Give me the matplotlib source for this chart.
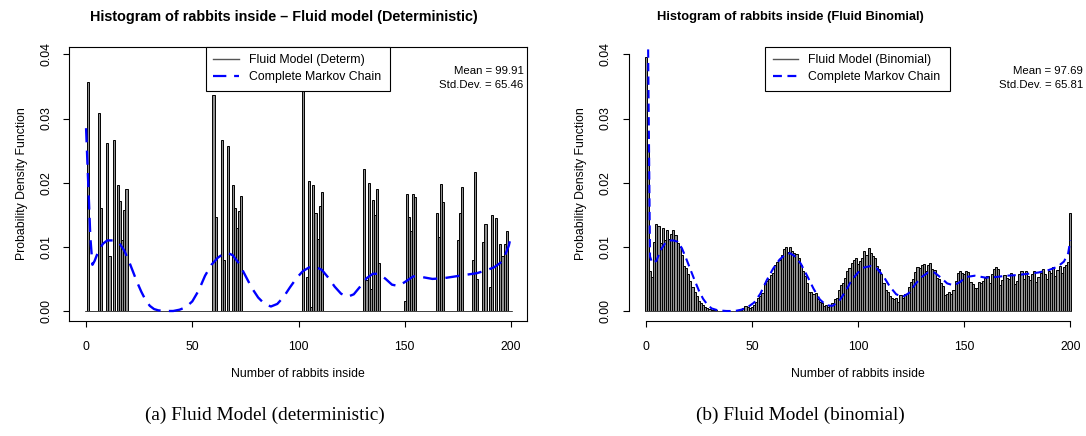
import numpy as np
import matplotlib.pyplot as plt
from matplotlib.lines import Line2D

plt.rcParams['font.family'] = ['Liberation Sans', 'DejaVu Sans']

# left panel: fluid model (deterministic), only a few bins are non-zero
det_bins = [1, 6, 7, 10, 11, 13, 15, 16, 17, 18, 19,
            60, 61, 64, 65, 67, 69, 70, 71, 72, 73,
            102, 104, 105, 106, 107, 108, 109, 110, 111,
            131, 132, 133, 134, 135, 136, 137, 138,
            150, 151, 152, 153, 154, 155,
            165, 166, 167, 168,
            175, 176, 177,
            182, 183, 184,
            187, 188, 190, 191, 193, 195, 196, 197, 198]
det_vals = [0.0357, 0.0309, 0.0160, 0.0262, 0.0085, 0.0267, 0.0197, 0.0172, 0.0110, 0.0157, 0.0190,
            0.0337, 0.0146, 0.0266, 0.0080, 0.0257, 0.0197, 0.0160, 0.0129, 0.0156, 0.0179,
            0.0460, 0.0053, 0.0203, 0.0007, 0.0197, 0.0153, 0.0113, 0.0164, 0.0185,
            0.0222, 0.0048, 0.0199, 0.0034, 0.0173, 0.0150, 0.0190, 0.0075,
            0.0016, 0.0183, 0.0147, 0.0124, 0.0182, 0.0178,
            0.0152, 0.0116, 0.0198, 0.0170,
            0.0110, 0.0153, 0.0194,
            0.0080, 0.0216, 0.0050,
            0.0108, 0.0136, 0.0038, 0.0150, 0.0145, 0.0104, 0.0085, 0.0104, 0.0125]

# right panel: fluid model (binomial), one value per bin 0..200
bin_vals = [
    0.0396, 0.0254, 0.0062, 0.0053, 0.0108, 0.0136, 0.0133, 0.0106, 0.0129, 0.0110,
    0.0127, 0.0112, 0.0120, 0.0127, 0.0118, 0.0106, 0.0099, 0.0088, 0.0070, 0.0067,
    0.0058, 0.0046, 0.0038, 0.0030, 0.0024, 0.0016, 0.0012, 0.0009, 0.0006, 0.0004,
    0.0003, 0.0002, 0.0001, 0.0001, 0.0000, 0.0000, 0.0000, 0.0000, 0.0000, 0.0000,
    0.0000, 0.0000, 0.0000, 0.0001, 0.0001, 0.0002, 0.0005, 0.0008, 0.0006, 0.0004,
    0.0007, 0.0010, 0.0014, 0.0020, 0.0024, 0.0028, 0.0043, 0.0046, 0.0050, 0.0056,
    0.0060, 0.0072, 0.0076, 0.0080, 0.0087, 0.0097, 0.0099, 0.0092, 0.0100, 0.0093,
    0.0091, 0.0089, 0.0082, 0.0071, 0.0062, 0.0055, 0.0044, 0.0029, 0.0030, 0.0026,
    0.0028, 0.0018, 0.0014, 0.0012, 0.0008, 0.0009, 0.0006, 0.0010, 0.0012, 0.0018,
    0.0021, 0.0032, 0.0040, 0.0043, 0.0052, 0.0063, 0.0067, 0.0075, 0.0079, 0.0083,
    0.0074, 0.0078, 0.0082, 0.0093, 0.0088, 0.0098, 0.0090, 0.0085, 0.0083, 0.0070,
    0.0066, 0.0057, 0.0043, 0.0033, 0.0030, 0.0024, 0.0021, 0.0018, 0.0020, 0.0014,
    0.0025, 0.0021, 0.0027, 0.0026, 0.0037, 0.0045, 0.0050, 0.0061, 0.0068, 0.0067,
    0.0071, 0.0074, 0.0062, 0.0072, 0.0075, 0.0065, 0.0064, 0.0052, 0.0050, 0.0043,
    0.0039, 0.0025, 0.0027, 0.0029, 0.0026, 0.0033, 0.0046, 0.0060, 0.0063, 0.0059,
    0.0058, 0.0063, 0.0061, 0.0045, 0.0042, 0.0036, 0.0036, 0.0045, 0.0043, 0.0046,
    0.0052, 0.0055, 0.0043, 0.0058, 0.0065, 0.0068, 0.0066, 0.0040, 0.0049, 0.0056,
    0.0052, 0.0050, 0.0059, 0.0056, 0.0042, 0.0047, 0.0057, 0.0062, 0.0050, 0.0062,
    0.0055, 0.0049, 0.0058, 0.0062, 0.0045, 0.0053, 0.0060, 0.0065, 0.0057, 0.0050,
    0.0062, 0.0060, 0.0068, 0.0055, 0.0064, 0.0070, 0.0060, 0.0068, 0.0072, 0.0077,
    0.0152]

# complete Markov chain curve as drawn in each panel
mc_left_x = [0, 1, 2, 3, 4, 6, 8, 10, 12, 14, 16, 18, 20, 22, 24, 26, 28, 30, 32, 34,
             37, 41, 44, 47, 50, 53, 56, 59, 62, 65, 67, 69, 72, 75, 78, 81, 84, 87, 90,
             93, 96, 99, 102, 105, 108, 111, 114, 117, 120, 123, 126, 129, 132, 135, 138,
             141, 144, 147, 150, 154, 158, 163, 168, 172, 176, 180, 184, 188, 192, 195,
             197, 199, 200]
mc_left_y = [0.0285, 0.0200, 0.0115, 0.0072, 0.0078, 0.0095, 0.0105, 0.0110, 0.0110, 0.0110,
             0.0104, 0.0094, 0.0079, 0.0062, 0.0045, 0.0030, 0.0017, 0.0008, 0.0003, 0.0001,
             0.0000, 0.0000, 0.0002, 0.0006, 0.0015, 0.0032, 0.0055, 0.0072, 0.0083, 0.0090,
             0.0090, 0.0087, 0.0074, 0.0055, 0.0036, 0.0021, 0.0011, 0.0007, 0.0011, 0.0022,
             0.0037, 0.0051, 0.0062, 0.0068, 0.0069, 0.0064, 0.0052, 0.0038, 0.0027, 0.0022,
             0.0026, 0.0038, 0.0051, 0.0058, 0.0058, 0.0050, 0.0041, 0.0039, 0.0045, 0.0054,
             0.0053, 0.0050, 0.0051, 0.0053, 0.0055, 0.0057, 0.0059, 0.0063, 0.0068, 0.0075,
             0.0085, 0.0102, 0.0117]

mc_right_x = [1, 2, 3, 5, 7, 9, 11, 13, 15, 17, 19, 21, 23, 25, 27, 29, 31, 34, 38, 42,
              45, 48, 51, 54, 57, 60, 63, 66, 68, 70, 73, 76, 79, 82, 85, 88, 91, 94, 97,
              100, 103, 106, 109, 112, 115, 118, 121, 124, 127, 130, 133, 136, 139, 142,
              145, 148, 151, 155, 160, 165, 170, 175, 180, 185, 190, 194, 197, 199, 200]
mc_right_y = [0.0450, 0.0085, 0.0075, 0.0078, 0.0095, 0.0105, 0.0110, 0.0110, 0.0108, 0.0098,
              0.0082, 0.0065, 0.0048, 0.0032, 0.0019, 0.0010, 0.0004, 0.0001, 0.0000, 0.0000,
              0.0002, 0.0006, 0.0013, 0.0027, 0.0048, 0.0066, 0.0080, 0.0089, 0.0090, 0.0086,
              0.0074, 0.0055, 0.0035, 0.0018, 0.0009, 0.0008, 0.0015, 0.0030, 0.0048, 0.0060,
              0.0068, 0.0070, 0.0066, 0.0054, 0.0038, 0.0026, 0.0022, 0.0028, 0.0042, 0.0053,
              0.0060, 0.0060, 0.0052, 0.0043, 0.0040, 0.0045, 0.0053, 0.0055, 0.0052, 0.0053,
              0.0055, 0.0056, 0.0058, 0.0060, 0.0064, 0.0069, 0.0077, 0.0090, 0.0110]

x_ticks = [0, 50, 100, 150, 200]
y_ticks = [0.00, 0.01, 0.02, 0.03, 0.04]

W, H = 1086, 436
fig = plt.figure(figsize=(W / 100, H / 100), dpi=100)

FS = 8.8


def px_axes(x0, x1, y0, y1):
    return fig.add_axes([x0 / W, 1 - y1 / H, (x1 - x0) / W, (y1 - y0) / H])


def style_axes(ax, boxed):
    ax.set_xlim(-7.9, 207.4)
    ax.set_ylim(-0.00156, 0.0412)
    ax.set_xticks(x_ticks)
    ax.set_yticks(y_ticks)
    ax.set_yticklabels([f'{t:.2f}' for t in y_ticks])
    ax.tick_params(direction='out', length=4.3, width=0.8, labelsize=FS, pad=8)
    ax.tick_params(axis='x', pad=10)
    for lab in ax.get_yticklabels():
        lab.set_rotation(90)
        lab.set_va('center')
    for s in ax.spines.values():
        s.set_linewidth(0.8)
    if not boxed:
        ax.spines['top'].set_visible(False)
        ax.spines['right'].set_visible(False)
        ax.spines['left'].set_bounds(0, 0.04)
        ax.spines['bottom'].set_bounds(0, 200)
    ax.set_xlabel('Number of rabbits inside', fontsize=FS, labelpad=11)
    ax.set_ylabel('Probability Density Function', fontsize=FS, labelpad=9)


def add_legend(ax, first_label, dash):
    handles = [Line2D([], [], color='#555555', lw=1.0),
               Line2D([], [], color='blue', lw=1.6, ls=(0, dash))]
    leg = ax.legend(handles, [first_label, 'Complete Markov Chain'],
                    loc='upper left', bbox_to_anchor=(0.298, 1.0, 0.404, 0.0),
                    mode='expand', borderaxespad=0, fontsize=FS, fancybox=False,
                    framealpha=1, edgecolor='black', handlelength=2.1,
                    handletextpad=0.8, borderpad=0.62, labelspacing=0.4)
    leg.get_frame().set_linewidth(0.8)


def add_stats(ax, mean, sd):
    ax.text(0.993, 0.9125, f'Mean = {mean}', transform=ax.transAxes,
            ha='right', va='center', fontsize=8.2)
    ax.text(0.993, 0.860, f'Std.Dev. = {sd}', transform=ax.transAxes,
            ha='right', va='center', fontsize=8.2)


bar_style = dict(width=1.0, color='#909090', edgecolor='black', linewidth=0.7)

# (a) deterministic
ax1 = px_axes(69.3, 526.7, 46.7, 321)
det_full = np.zeros(201)
det_full[det_bins] = det_vals
ax1.hlines(0, -0.5, 200.5, color='#444444', lw=0.7)
ax1.bar(np.arange(201), det_full, **bar_style)
ax1.plot(mc_left_x, mc_left_y, color='blue', lw=1.7, dashes=(6, 3.5))
style_axes(ax1, boxed=True)
add_legend(ax1, 'Fluid Model (Determ)', (6, 3.5))
add_stats(ax1, '99.91', '65.46')

# (b) binomial
ax2 = px_axes(629, 1086, 46.7, 321)
ax2.hlines(0, -0.5, 200.5, color='#444444', lw=0.7)
ax2.bar(np.arange(len(bin_vals)), bin_vals, **bar_style)
ax2.plot(mc_right_x, mc_right_y, color='blue', lw=1.5, dashes=(4, 2.5))
style_axes(ax2, boxed=False)
add_legend(ax2, 'Fluid Model (Binomial)', (4, 2.5))
add_stats(ax2, '97.69', '65.81')

fig.text(284 / W, 1 - 17 / H, 'Histogram of rabbits inside \u2013 Fluid model (Deterministic)',
         ha='center', va='center', fontsize=10.4, fontweight='bold')
fig.text(790 / W, 1 - 17 / H, 'Histogram of rabbits inside (Fluid Binomial)',
         ha='center', va='center', fontsize=9.3, fontweight='bold')

fig.text(265 / W, 1 - 415 / H, '(a) Fluid Model (deterministic)',
         ha='center', va='center', fontsize=13.9, family='Liberation Serif')
fig.text(800 / W, 1 - 415 / H, '(b) Fluid Model (binomial)',
         ha='center', va='center', fontsize=13.9, family='Liberation Serif')

fig.savefig('out.png', dpi=100)
